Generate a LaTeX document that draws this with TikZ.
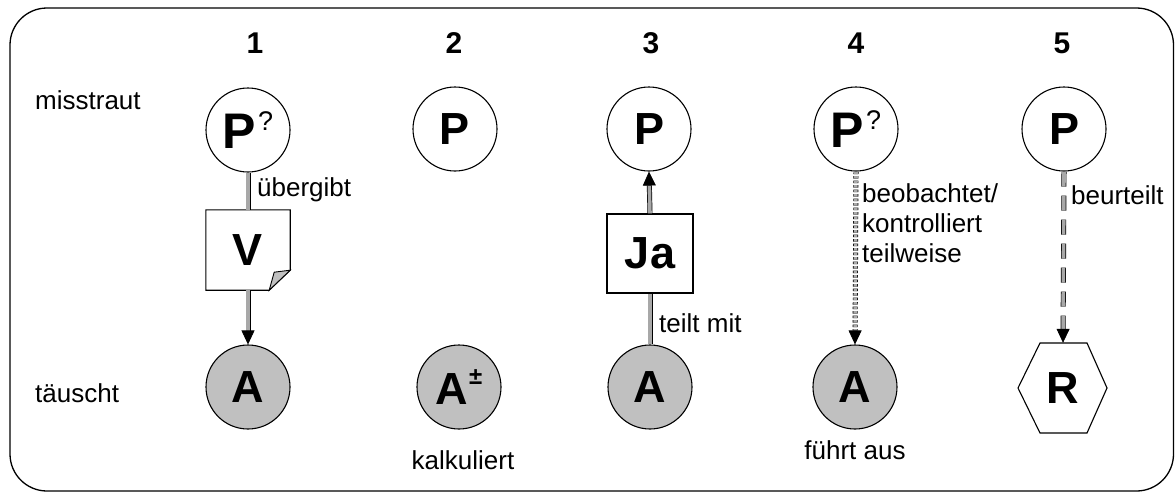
\documentclass[tikz,border=0pt]{standalone}
\usepackage{fontspec}
\setmainfont{Liberation Sans}
\usetikzlibrary{arrows.meta}
\definecolor{actorgray}{RGB}{192,192,192}
\definecolor{linkgray}{RGB}{168,168,168}

\begin{document}
\begin{tikzpicture}[x=1pt,y=-1pt,
  party/.style={circle, draw, line width=1.1pt, minimum size=84pt, inner sep=0pt,
    font=\bfseries\fontsize{45}{45}\selectfont},
  agent/.style={party, fill=actorgray},
  boxtext/.style={inner sep=0pt, font=\bfseries\fontsize{45}{45}\selectfont},
  colhead/.style={inner sep=0pt, font=\bfseries\fontsize{30}{30}\selectfont},
  caption/.style={inner sep=0pt, font=\fontsize{26}{30}\selectfont},
  link/.style={draw=black, line width=0.7pt, double=linkgray, double distance=3.6pt},
  tip/.style={-{Triangle[width=13pt,length=14pt]}},
]
\useasboundingbox (0,0) rectangle (1175,493);

% outer frame
\draw[line width=1.3pt, rounded corners=37pt] (10,8) rectangle (1173.5,491);

% row labels
\node[caption, anchor=west] (rowtop) at (35,100) {misstraut};
\node[caption, anchor=west] (rowbot) at (35,393) {täuscht};

% column headers
\node[colhead] (h1) at (255,43) {1};
\node[colhead] (h2) at (454,43) {2};
\node[colhead] (h3) at (651,43) {3};
\node[colhead] (h4) at (856,43) {4};
\node[colhead] (h5) at (1062,43) {5};

% principals
\node[party] (P1) at (248,130) {\fontsize{50}{50}\selectfont P\kern2pt\raisebox{18pt}{\mdseries\fontsize{27}{27}\selectfont ?}};
\node[party] (P2) at (455,129) {P};
\node[party] (P3) at (649,129) {P};
\node[party] (P4) at (856,129) {\fontsize{50}{50}\selectfont P\kern2pt\raisebox{18pt}{\mdseries\fontsize{27}{27}\selectfont ?}};
\node[party] (P5) at (1064,129) {P};

% agents
\node[agent] (A1) at (248,387) {A};
\node[agent] (A2) at (459,387) {A\kern1pt\raisebox{20pt}{\bfseries\fontsize{24}{24}\selectfont ±}};
\node[agent] (A3) at (650,387) {A};
\node[agent] (A4) at (855,387) {A};

% contract document with folded corner
\node[boxtext, minimum width=84pt, minimum height=80pt] (V) at (248,250) {V};
\draw[line width=1.1pt] (V.north west) -- (V.north east) -- ([yshift=20pt]V.south east)
  -- ([xshift=-21pt]V.south east) -- (V.south west) -- cycle;
\draw[line width=0.9pt, fill=actorgray] ([xshift=-21pt]V.south east) -- ([yshift=20pt]V.south east)
  -- ([xshift=-16pt,yshift=18pt]V.south east) -- cycle;

% report box
\node[boxtext, draw, line width=1.1pt, minimum width=86pt, minimum height=79pt] (J) at (650,253.5) {Ja};

% reviewer hexagon
\draw[line width=1.1pt] (1040,343) -- (1087,343) -- (1107,388) -- (1087,433)
  -- (1040,433) -- (1018,388) -- cycle;
\node[boxtext, minimum width=89pt, minimum height=90pt] (R) at (1063,388) {R};

% connectors
\draw[link] (P1.south) -- (V.north);
\draw[link, tip] (V.south) -- (A1.north);
\draw[link] (A3.north) -- (J.south);
\draw[link, tip] (J.north) -- (P3.south);
\draw[link, tip, dash pattern=on 2.5pt off 2pt] (P4.south) -- (A4.north);
\draw[link, tip, dash pattern=on 15pt off 9pt] (P5.south) -- (R.north);

% connector captions
\node[caption, anchor=west] (c1) at (257,190) {übergibt};
\node[caption, anchor=west] (c3) at (659,323) {teilt mit};
\node[caption, anchor=west, align=left] (c4) at (862,223) {beobachtet/\\kontrolliert\\teilweise};
\node[caption, anchor=west] (c5) at (1071,195) {beurteilt};
\node[caption] (c2) at (463,460) {kalkuliert};
\node[caption] (c4b) at (855,450) {führt aus};
\end{tikzpicture}
\end{document}
